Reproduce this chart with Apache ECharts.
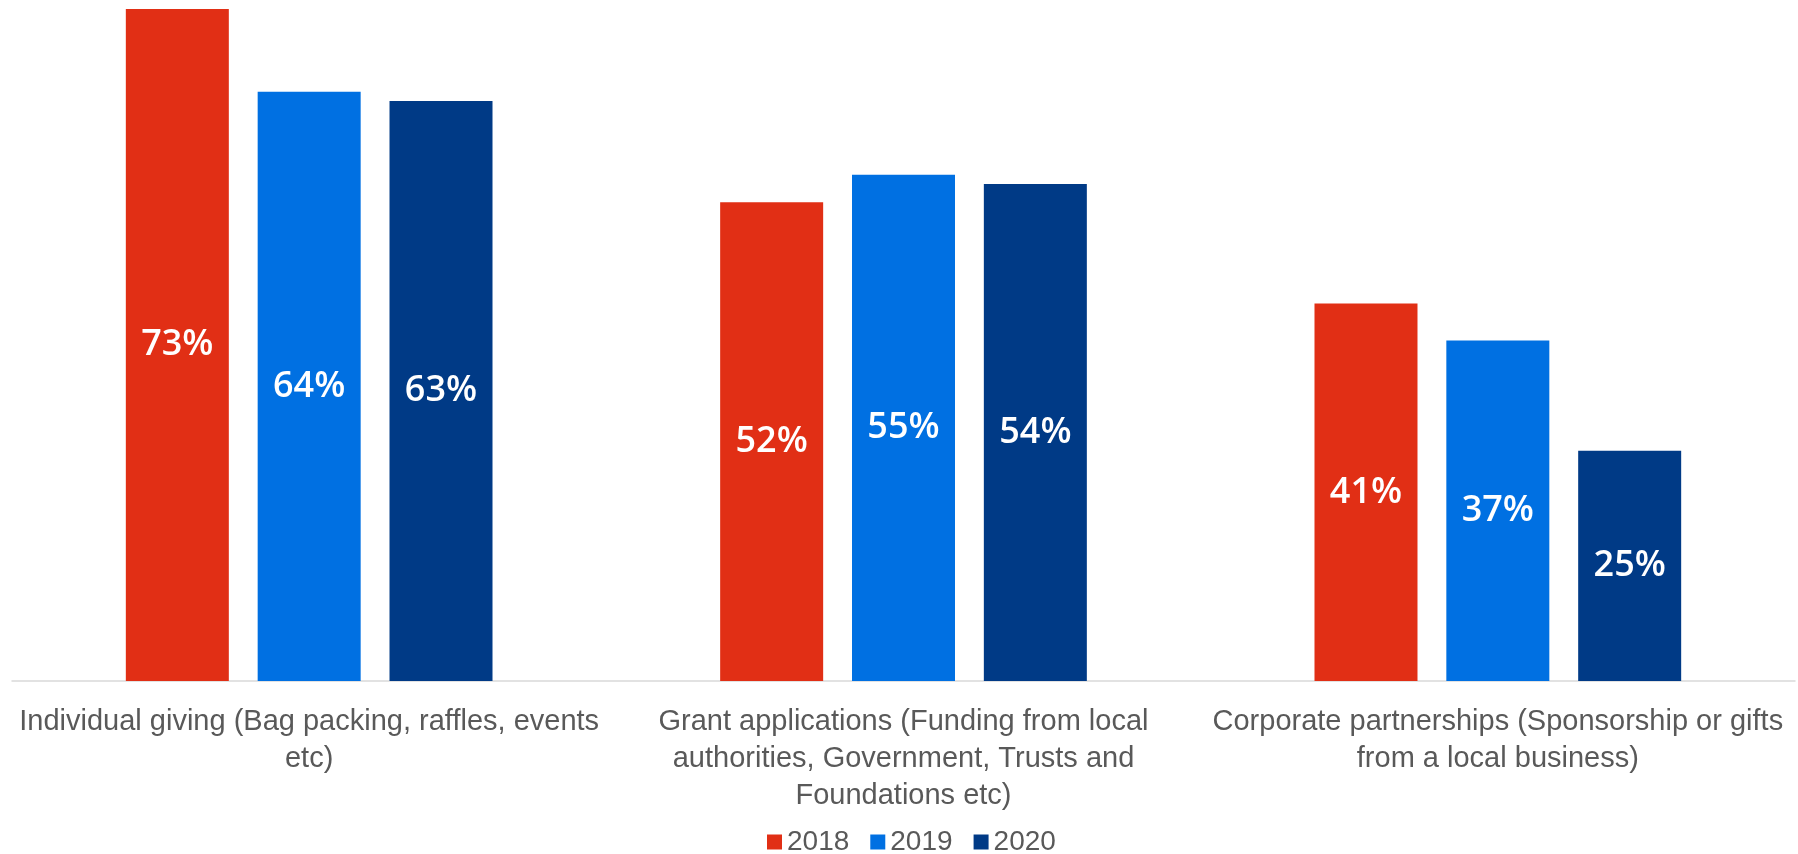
<!DOCTYPE html>
<html>
<head>
<meta charset="utf-8">
<script src="https://cdn.jsdelivr.net/npm/echarts@6/dist/echarts.min.js"></script>
<style>
  html, body { margin: 0; padding: 0; background: #ffffff; }
  #chart { width: 1798px; height: 854px; }
</style>
</head>
<body>
<div id="chart"></div>
<script>
// Fundraising sources by year (% of respondents)
const categories = [
  'Individual giving (Bag packing, raffles, events\netc)',
  'Grant applications (Funding from local\nauthorities, Government, Trusts and\nFoundations etc)',
  'Corporate partnerships (Sponsorship or gifts\nfrom a local business)'
];
const years = ['2018', '2019', '2020'];
const values2018 = [73, 52, 41];
const values2019 = [64, 55, 37];
const values2020 = [63, 54, 25];

const colors = ['#E12F15', '#0070E2', '#003A86'];
const seriesValues = [values2018, values2019, values2020];

const chart = echarts.init(document.getElementById('chart'));
chart.setOption({
  animation: false,
  backgroundColor: '#ffffff',
  grid: { left: 12, right: 3, top: 9, bottom: 173 },
  legend: {
    bottom: -7,
    left: 762,
    itemWidth: 15,
    itemHeight: 15,
    itemGap: 21,
    icon: 'rect',
    textStyle: { color: '#595959', fontSize: 28, fontFamily: 'Liberation Sans, Arial, sans-serif' },
    data: years
  },
  xAxis: {
    type: 'category',
    data: categories,
    axisLine: { show: true, lineStyle: { color: '#D9D9D9', width: 1.5 } },
    axisTick: { show: false },
    axisLabel: {
      interval: 0,
      margin: 22,
      color: '#595959',
      fontSize: 29,
      lineHeight: 37,
      fontFamily: 'Liberation Sans, Arial, sans-serif'
    }
  },
  yAxis: {
    type: 'value',
    min: 0,
    max: 73,
    show: false,
    splitLine: { show: false }
  },
  series: years.map((y, i) => ({
    name: y,
    type: 'bar',
    data: seriesValues[i],
    barWidth: 103,
    barGap: '28%',
    itemStyle: { color: colors[i] },
    label: {
      show: true,
      position: 'inside',
      formatter: '{c}%',
      color: '#ffffff',
      fontSize: 36,
      fontWeight: 600,
      fontFamily: 'Open Sans, Noto Sans, sans-serif'
    }
  }))
});
</script>
</body>
</html>
